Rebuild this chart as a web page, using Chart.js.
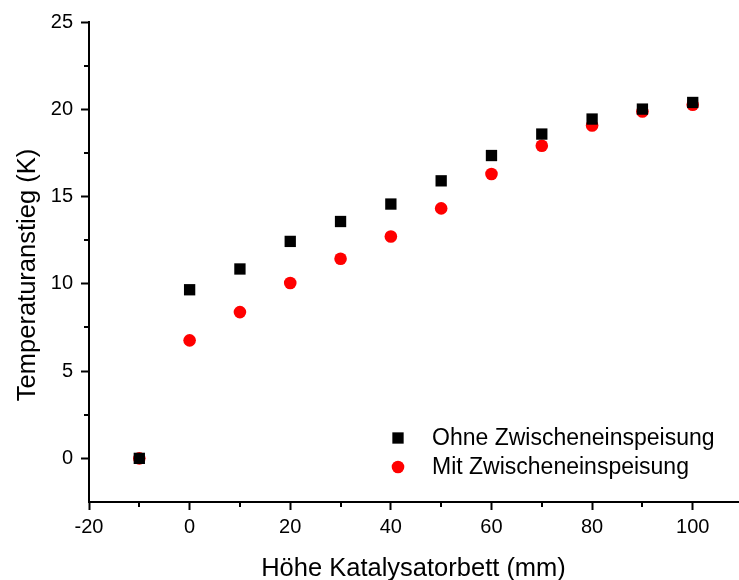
<!DOCTYPE html>
<html>
<head>
<meta charset="utf-8">
<script src="https://cdn.jsdelivr.net/npm/chart.js@4/dist/chart.umd.min.js"></script>
<style>
  html, body { margin: 0; padding: 0; background: #ffffff; }
  #wrap { width: 739px; height: 580px; }
</style>
</head>
<body>
<div id="wrap"><canvas id="c" width="739" height="580"></canvas></div>
<script>
// Bed height positions (mm)
const heights = [-10, 0, 10, 20, 30, 40, 50, 60, 70, 80, 90, 100];
// Temperature rise (K) without intermediate feed
const ohneZwischeneinspeisung = [0, 9.66, 10.85, 12.43, 13.57, 14.57, 15.9, 17.35, 18.58, 19.44, 20.01, 20.39];
// Temperature rise (K) with intermediate feed
const mitZwischeneinspeisung = [0, 6.76, 8.38, 10.05, 11.44, 12.71, 14.32, 16.29, 17.91, 19.07, 19.87, 20.26];
// Minor tick values
const xMinorTicks = [-10, 10, 30, 50, 70, 90];
const yMinorTicks = [2.5, 7.5, 12.5, 17.5, 22.5];

const seriesLabels = ['Ohne Zwischeneinspeisung', 'Mit Zwischeneinspeisung'];
const xTitle = 'Höhe Katalysatorbett (mm)';
const yTitle = 'Temperaturanstieg (K)';
const FONT = '"Liberation Sans", Arial, Helvetica, sans-serif';

// Short outward tick marks between the labelled ones
const minorTicks = {
  id: 'minorTicks',
  afterDraw(chart) {
    const { ctx, chartArea, scales } = chart;
    ctx.save();
    ctx.strokeStyle = '#000';
    ctx.lineWidth = 2;
    ctx.beginPath();
    xMinorTicks.forEach(v => {
      const px = Math.round(scales.x.getPixelForValue(v));
      ctx.moveTo(px, chartArea.bottom);
      ctx.lineTo(px, chartArea.bottom + 5);
    });
    yMinorTicks.forEach(v => {
      const py = Math.round(scales.y.getPixelForValue(v));
      ctx.moveTo(chartArea.left, py);
      ctx.lineTo(chartArea.left - 5, py);
    });
    ctx.stroke();
    ctx.restore();
  }
};

// Vertical axis title, set slightly below the middle of the axis
const yAxisTitle = {
  id: 'yAxisTitle',
  afterDraw(chart) {
    const { ctx, chartArea } = chart;
    ctx.save();
    ctx.translate(35, chartArea.top + 253);
    ctx.rotate(-Math.PI / 2);
    ctx.font = '25.5px ' + FONT;
    ctx.fillStyle = '#000';
    ctx.textAlign = 'center';
    ctx.textBaseline = 'alphabetic';
    ctx.fillText(yTitle, 0, 0);
    ctx.restore();
  }
};

// Legend drawn inside the plot area, lower right
const innerLegend = {
  id: 'innerLegend',
  afterDraw(chart) {
    const { ctx, chartArea } = chart;
    const markerX = chartArea.left + 309;
    const textX = chartArea.left + 343;
    const firstY = chartArea.bottom - 64;
    const rowGap = 29;
    ctx.save();
    ctx.font = '23px ' + FONT;
    ctx.textBaseline = 'middle';
    ctx.textAlign = 'left';
    chart.data.datasets.forEach((ds, i) => {
      const y = firstY + i * rowGap;
      ctx.fillStyle = ds.backgroundColor;
      Chart.helpers.drawPoint(ctx, {
        pointStyle: ds.pointStyle,
        radius: ds.pointRadius,
        rotation: 0,
        borderWidth: 0
      }, markerX, y);
      ctx.fillStyle = '#000';
      ctx.fillText(ds.label, textX, y + 1);
    });
    ctx.restore();
  }
};

new Chart(document.getElementById('c'), {
  type: 'scatter',
  data: {
    datasets: [
      {
        label: seriesLabels[0],
        data: heights.map((h, i) => ({ x: h, y: ohneZwischeneinspeisung[i] })),
        pointStyle: 'rect',
        pointRadius: 8,
        pointHoverRadius: 8,
        backgroundColor: '#000000',
        borderWidth: 0
      },
      {
        label: seriesLabels[1],
        data: heights.map((h, i) => ({ x: h, y: mitZwischeneinspeisung[i] })),
        pointStyle: 'circle',
        pointRadius: 6.3,
        pointHoverRadius: 6.3,
        backgroundColor: '#ff0000',
        borderWidth: 0
      }
    ]
  },
  options: {
    responsive: false,
    animation: false,
    events: [],
    layout: { autoPadding: false, padding: { top: 22, right: 1, left: 0, bottom: 0 } },
    plugins: {
      legend: { display: false },
      tooltip: { enabled: false }
    },
    scales: {
      x: {
        type: 'linear',
        min: -20,
        max: 109,
        afterFit(scale) {
          scale.height = 78;
          scale.paddingLeft = 0;
          scale.paddingRight = 0;
        },
        border: { display: true, color: '#000', width: 2 },
        grid: { display: true, drawOnChartArea: false, drawTicks: true, tickLength: 8, tickColor: '#000', tickWidth: 2 },
        ticks: {
          stepSize: 20,
          includeBounds: false,
          color: '#000',
          padding: 5,
          maxRotation: 0,
          font: { family: FONT, size: 20 }
        },
        title: {
          display: true,
          text: xTitle,
          color: '#000',
          font: { family: FONT, size: 25.5 },
          padding: { top: 0, bottom: -4 }
        }
      },
      y: {
        type: 'linear',
        min: -2.5,
        max: 25,
        afterFit(scale) {
          scale.width = 89;
          scale.paddingTop = 0;
          scale.paddingBottom = 0;
        },
        border: { display: true, color: '#000', width: 2 },
        grid: { display: true, drawOnChartArea: false, drawTicks: true, tickLength: 8, tickColor: '#000', tickWidth: 2 },
        ticks: {
          stepSize: 5,
          includeBounds: false,
          color: '#000',
          padding: 8,
          font: { family: FONT, size: 20 }
        },
        title: { display: false }
      }
    }
  },
  plugins: [minorTicks, yAxisTitle, innerLegend]
});
</script>
</body>
</html>
